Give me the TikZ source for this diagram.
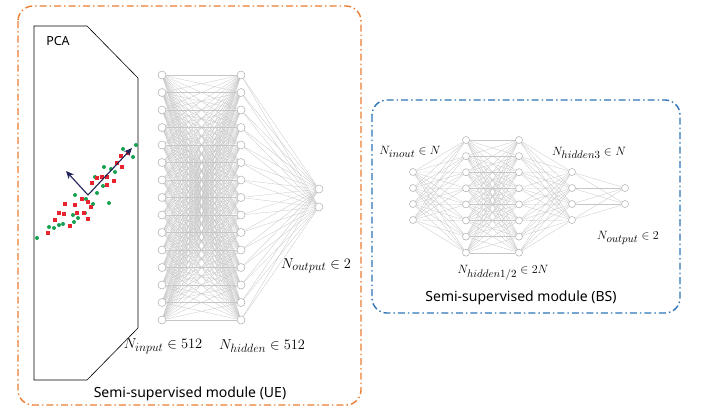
\documentclass[tikz,border=0pt]{standalone}
\usepackage{fontspec}
\setsansfont{Noto Sans}
\usepackage{xcolor}
\usepackage{tikz}
\usetikzlibrary{arrows.meta, positioning}

\DeclareMathSizes{14.5}{14.5}{11.5}{9}
\DeclareMathSizes{13}{13}{10.5}{8}

\definecolor{ueorange}{RGB}{237,125,49}
\definecolor{bsblue}{RGB}{46,117,182}
\definecolor{pcanavy}{RGB}{30,34,86}
\definecolor{ptred}{RGB}{232,36,46}
\definecolor{ptgreen}{RGB}{22,160,80}

\begin{document}
\begin{tikzpicture}[
    x=1pt, y=-1pt,
    neuron/.style={circle, draw=gray!65, fill=white, inner sep=0pt, minimum size=8pt, line width=0.5pt},
    smallneuron/.style={neuron, minimum size=7pt},
    link/.style={draw=gray!45, line width=0.3pt},
    module/.style={rounded corners=15pt, line width=1.4pt, dash pattern=on 7pt off 3pt on 1.5pt off 3pt},
    caption/.style={font=\sffamily\fontsize{14}{16}\selectfont},
    lbl/.style={font=\fontsize{14.5}{16}\selectfont},
    slbl/.style={font=\fontsize{13}{15}\selectfont},
    pcarrow/.style={-{Stealth[length=8pt,width=7pt]}, draw=pcanavy, line width=1.1pt}
]
\useasboundingbox (0,0) rectangle (702,408);

% Module frames
\draw[module, ueorange] (18,6) rectangle (361,405);
\draw[module, bsblue] (372,100) rectangle (680,313);

% PCA panel
\draw[line width=0.6pt] (34,26) -- (87,26) -- (138,78) -- (138,328) -- (87,380) -- (34,380) -- cycle;
\node[font=\sffamily\bfseries\fontsize{12.5}{14}\selectfont] (pca) at (58,41) {PCA};

% PCA samples
\foreach \x/\y in {37/238, 49/227, 54/228, 59/225, 63/224, 74/222, 78/218, 73/215, 85/213, 93/204,
                   75/195, 86/199, 97/193, 95/177, 103/186, 109/203, 111/169, 115/172, 104/167,
                   123/149, 133/157, 136/145}
    \fill[ptgreen] (\x,\y) circle (2pt);
\foreach \x/\y in {48/233, 55/220, 59/213, 64/214, 65/204, 70/226, 75/205, 77/213, 82/199, 84/213,
                   88/219, 91/207, 88/202, 92/183, 97/178, 102/177, 107/177, 107/185, 114/181,
                   117/163, 121/156, 122/167, 128/153}
    \fill[ptred] (\x-2.3,\y-2.3) rectangle (\x+2.3,\y+2.3);

% Principal axes
\coordinate (pc-origin) at (88,195);
\coordinate (pc-minor) at (66,171);
\coordinate (pc-major) at (132,148);
\draw[pcarrow] (pc-origin) -- (pc-minor);
\draw[pcarrow] (pc-origin) -- (pc-major);

% UE network
\foreach \i in {1,...,15} {
    \node[neuron] (ue-in-\i) at (162, {75+17.5*(\i-1)}) {};
    \node[neuron] (ue-hid-\i) at (241, {75+17.5*(\i-1)}) {};
}
\node[neuron] (ue-out-1) at (319,189) {};
\node[neuron] (ue-out-2) at (319,207) {};

\foreach \i in {1,...,15} {
    \foreach \j in {1,...,15}
        \draw[link] (ue-in-\i) -- (ue-hid-\j);
    \draw[link] (ue-hid-\i) -- (ue-out-1);
    \draw[link] (ue-hid-\i) -- (ue-out-2);
}

\node[lbl] (ue-in-lbl) at (163,346) {$N_{input}\in 512$};
\node[lbl] (ue-hid-lbl) at (262,346) {$N_{hidden}\in 512$};
\node[lbl] (ue-out-lbl) at (316,266) {$N_{output}\in 2$};
\node[caption] (ue-cap) at (190,394) {Semi-supervised module (UE)};

% BS network
\foreach \i/\y in {1/172, 2/188, 3/204, 4/220} {
    \node[smallneuron] (bs-in-\i) at (413,\y) {};
    \node[smallneuron] (bs-hid3-\i) at (572,\y) {};
}
\foreach \i in {1,...,8} {
    \node[smallneuron] (bs-hid1-\i) at (466, {140+16.1*(\i-1)}) {};
    \node[smallneuron] (bs-hid2-\i) at (519, {140+16.1*(\i-1)}) {};
}
\node[smallneuron] (bs-out-1) at (625,188) {};
\node[smallneuron] (bs-out-2) at (625,204) {};

\foreach \i in {1,...,4}
    \foreach \j in {1,...,8} {
        \draw[link] (bs-in-\i) -- (bs-hid1-\j);
        \draw[link] (bs-hid2-\j) -- (bs-hid3-\i);
    }
\foreach \i in {1,...,8}
    \foreach \j in {1,...,8}
        \draw[link] (bs-hid1-\i) -- (bs-hid2-\j);
\foreach \i in {1,...,4} {
    \draw[link] (bs-hid3-\i) -- (bs-out-1);
    \draw[link] (bs-hid3-\i) -- (bs-out-2);
}

\node[slbl] (bs-in-lbl) at (410,152) {$N_{inout}\in N$};
\node[slbl] (bs-hid3-lbl) at (589,153) {$N_{hidden3}\in N$};
\node[slbl] (bs-out-lbl) at (628,238) {$N_{output}\in 2$};
\node[slbl] (bs-hid-lbl) at (503,273) {$N_{hidden1/2}\in 2N$};
\node[caption] (bs-cap) at (521,298) {Semi-supervised module (BS)};

\end{tikzpicture}
\end{document}
